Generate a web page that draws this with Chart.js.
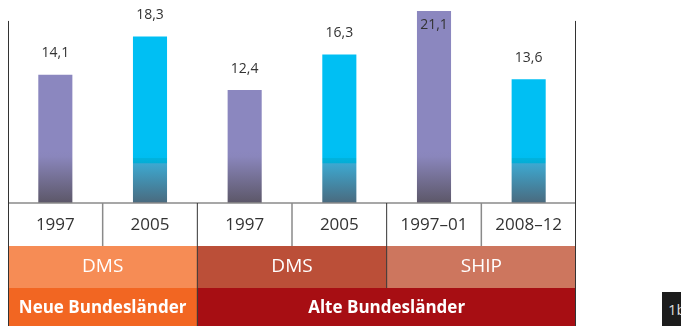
<!DOCTYPE html>
<html lang="de">
<head>
<meta charset="utf-8">
<script src="https://cdn.jsdelivr.net/npm/chart.js@4/dist/chart.umd.min.js"></script>
<style>
  body { margin: 0; background: #fff; }
  #wrap { position: relative; width: 681px; height: 326px; overflow: hidden; }
  #tag {
    position: absolute; left: 662px; top: 292px; width: 19px; height: 34px;
    background: #1c1c1c; color: #ddd; font: 15px "Open Sans", sans-serif;
    line-height: 34px; padding-left: 6px; white-space: nowrap; box-sizing: border-box;
  }
</style>
</head>
<body>
<div id="wrap">
  <canvas id="anteil" width="681" height="326"></canvas>
  <div id="tag">1b</div>
</div>
<script>
// Jahre / Zeiträume je Balken
const years = ["1997", "2005", "1997", "2005", "1997–01", "2008–12"];
// Werte je Balken
const values = [14.1, 18.3, 12.4, 16.3, 21.1, 13.6];
// Erhebungen (zweite Zeile) und wie viele Balken sie umfassen
const surveys = ["DMS", "DMS", "SHIP"];
const surveySpan = [2, 2, 2];
// Regionen (dritte Zeile)
const regions = ["Neue Bundesländer", "Alte Bundesländer"];
const regionSpan = [2, 4];

const surveyColors = ["#f68c55", "#bb4f38", "#cd765e"];
const regionColors = ["#f26622", "#a70e13"];
const FONT = '"Open Sans", sans-serif';

// Verlauf unten in den Balken
function barFill(ctx) {
  const chart = ctx.chart;
  const area = chart.chartArea;
  if (!area) return "#8b87bf";
  const g = chart.ctx.createLinearGradient(0, area.bottom - 53, 0, area.bottom);
  if (ctx.dataIndex % 2 === 0) {
    g.addColorStop(0, "#8b87bf");
    g.addColorStop(0.12, "#8a86bc");
    g.addColorStop(1, "#5c5768");
  } else {
    g.addColorStop(0, "#00bff3");
    g.addColorStop(0.15, "#00bdf0");
    g.addColorStop(0.16, "#00b3de");
    g.addColorStop(0.24, "#04add6");
    g.addColorStop(0.26, "#3da8d0");
    g.addColorStop(1, "#4a6a7e");
  }
  return g;
}

const table = {
  id: "table",
  afterDatasetsDraw(chart) {
    const ctx = chart.ctx;
    const area = chart.chartArea;
    const x = chart.scales.x;
    const y = chart.scales.y;
    const step = x.getPixelForValue(1) - x.getPixelForValue(0);
    const edge = (i) => x.getPixelForValue(i) - step / 2;
    const r1 = area.bottom, r2 = r1 + 43, r3 = r2 + 42, r4 = chart.height;

    ctx.save();
    // Wertebeschriftung
    ctx.font = "14px " + FONT;
    ctx.fillStyle = "#333";
    ctx.textAlign = "center";
    ctx.textBaseline = "middle";
    chart.getDatasetMeta(0).data.forEach((bar, i) => {
      let ly = bar.y - 21.5;
      if (ly < 9) ly = bar.y + 14;
      ctx.fillText(values[i].toFixed(1).replace(".", ","), bar.x, ly);
    });

    // Zeile 2: Erhebungen
    let k = 0;
    surveys.forEach((s, j) => {
      const a = edge(k), b = edge(k + surveySpan[j]);
      ctx.fillStyle = surveyColors[j];
      ctx.fillRect(a, r2, b - a, r3 - r2);
      ctx.fillStyle = "#fff";
      ctx.font = "19px " + FONT;
      ctx.fillText(s, (a + b) / 2, (r2 + r3) / 2);
      k += surveySpan[j];
    });
    // Zeile 3: Regionen
    k = 0;
    regions.forEach((s, j) => {
      const a = edge(k), b = edge(k + regionSpan[j]);
      ctx.fillStyle = regionColors[j];
      ctx.fillRect(a, r3, b - a, r4 - r3);
      ctx.fillStyle = "#fff";
      ctx.font = "bold 17px " + FONT;
      ctx.fillText(s, (a + b) / 2, (r3 + r4) / 2 + 1);
      k += regionSpan[j];
    });
    // Zeile 1: Jahre
    ctx.fillStyle = "#333";
    ctx.font = "17px " + FONT;
    years.forEach((t, i) => ctx.fillText(t, x.getPixelForValue(i), (r1 + r2) / 2 + 1));

    // Linien
    ctx.lineWidth = 1.5;
    ctx.strokeStyle = "#8a8a8a";
    ctx.beginPath();
    ctx.moveTo(area.left, r1);
    ctx.lineTo(area.right, r1);
    [1, 3, 5].forEach((i) => {
      ctx.moveTo(edge(i), r1);
      ctx.lineTo(edge(i), r2);
    });
    ctx.stroke();

    ctx.lineWidth = 1;
    ctx.strokeStyle = "#333";
    ctx.beginPath();
    ctx.moveTo(edge(2), r1);
    ctx.lineTo(edge(2), r4);
    ctx.moveTo(edge(4), r1);
    ctx.lineTo(edge(4), r3);
    const top = y.getPixelForValue(20);
    ctx.moveTo(area.left + 0.5, top);
    ctx.lineTo(area.left + 0.5, r4);
    ctx.moveTo(area.right - 0.5, top);
    ctx.lineTo(area.right - 0.5, r4);
    ctx.stroke();
    ctx.restore();
  }
};

new Chart(document.getElementById("anteil"), {
  type: "bar",
  data: {
    labels: years,
    datasets: [{
      data: values,
      backgroundColor: barFill,
      barPercentage: 0.36,
      categoryPercentage: 1
    }]
  },
  options: {
    responsive: false,
    animation: false,
    devicePixelRatio: 1,
    layout: { padding: { left: 8, right: 105, top: 0, bottom: 123 } },
    plugins: { legend: { display: false }, tooltip: { enabled: false } },
    scales: {
      x: { display: false },
      y: { display: false, min: 0, max: 22.3 }
    }
  },
  plugins: [table]
});
</script>
</body>
</html>
